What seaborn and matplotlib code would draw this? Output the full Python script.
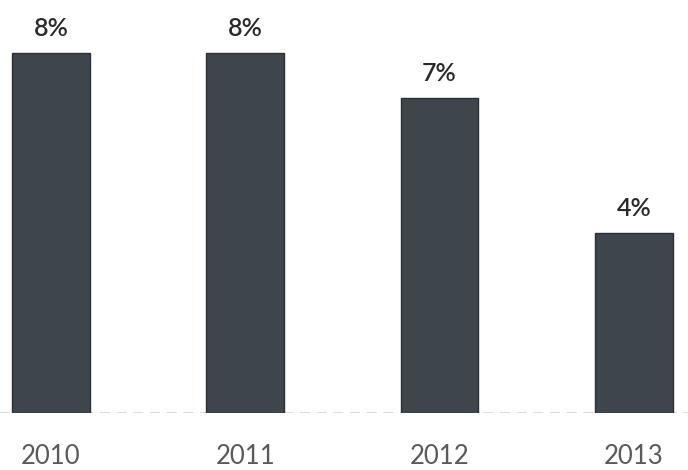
import matplotlib
matplotlib.use("Agg")
import matplotlib.pyplot as plt
import seaborn as sns
import pandas as pd

years = ["2010", "2011", "2012", "2013"]
values = [8, 8, 7, 4]
labels = ["8%", "8%", "7%", "4%"]

sns.set_theme(style="white")
plt.rcParams["font.family"] = ["Lato", "DejaVu Sans"]

df = pd.DataFrame({"year": years, "value": values})

fig = plt.figure(figsize=(6.88, 4.70), dpi=100)
ax = fig.add_axes([0, 57 / 470, 1, 413 / 470])

sns.barplot(data=df, x="year", y="value", color="#3e454b", width=0.4,
            edgecolor="#2b3034", linewidth=1.0, saturation=1, ax=ax)

ax.set_xlim(-0.262, 3.278)
ax.set_ylim(0, 9.18)

for i, (v, lab) in enumerate(zip(values, labels)):
    ax.annotate(lab, (i, v), xytext=(0, 9.5), textcoords="offset points",
                ha="center", va="bottom", fontsize=18, color="#2a2a2a",
                fontweight="semibold")

ax.axhline(0, color="#d4d4d4", linewidth=1.2, linestyle=(0, (6, 4)), zorder=0)

ax.set_xlabel("")
ax.set_ylabel("")
ax.set_yticks([])
ax.tick_params(axis="x", length=0, pad=22, labelsize=18.5, labelcolor="#5a5a5a")
for s in ax.spines.values():
    s.set_visible(False)

fig.savefig("out.png", dpi=100, facecolor="white")
